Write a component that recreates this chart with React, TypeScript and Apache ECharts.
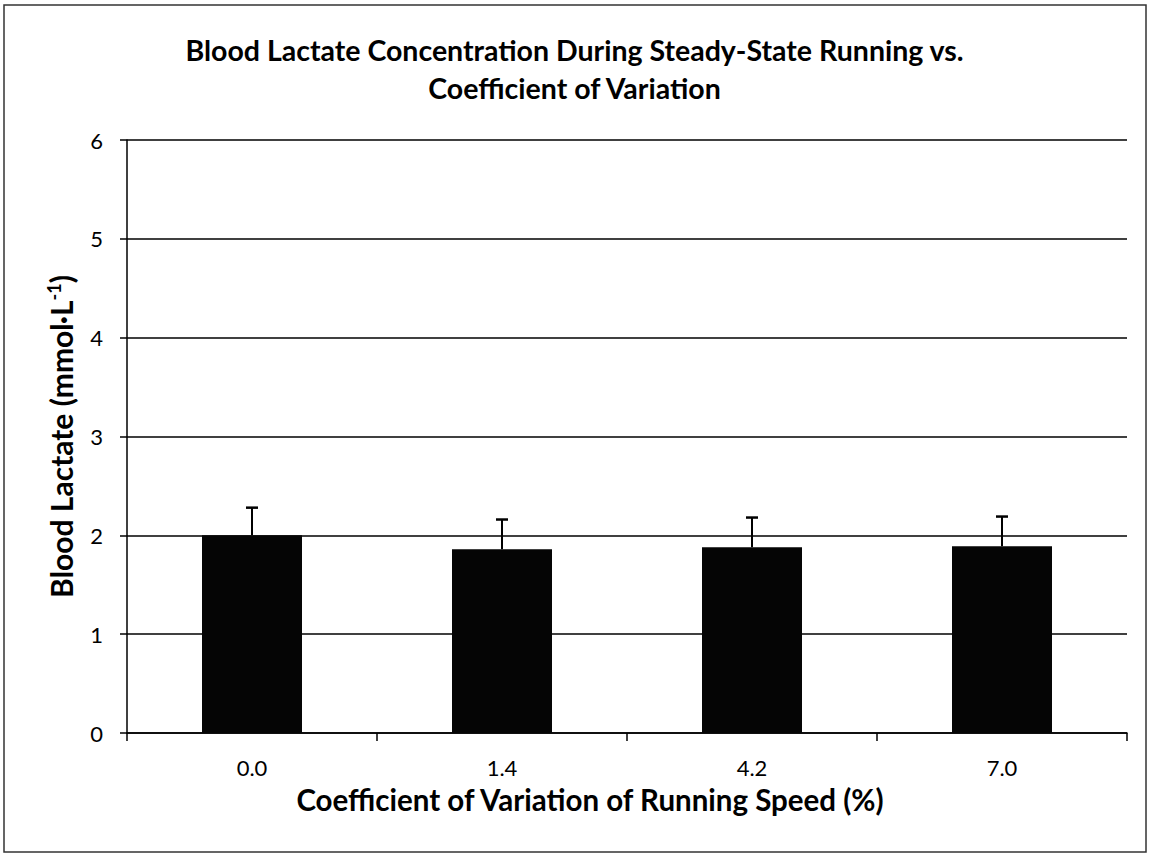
import React, { useEffect, useRef } from "react";
import * as echarts from "echarts";

const categories = ["0.0", "1.4", "4.2", "7.0"];
const lactateMeans = [2.0, 1.86, 1.88, 1.89];
const lactateSD = [0.28, 0.3, 0.3, 0.3];
const yTicks = [0, 1, 2, 3, 4, 5, 6];

export default function App() {
  const ref = useRef<HTMLDivElement>(null);
  useEffect(() => {
    document.body.style.margin = "0";
    const chart = echarts.init(ref.current!, null, { renderer: "svg" });
    const font = "Lato, 'Open Sans', sans-serif";
    const errData = lactateMeans.map((m, i) => [i, m, m + lactateSD[i]]);
    chart.setOption({
      animation: false,
      backgroundColor: "#fff",
      textStyle: { fontFamily: font },
      title: {
        text: "Blood Lactate Concentration During Steady-State Running vs.\nCoefficient of Variation",
        left: "center",
        top: 26,
        padding: [5, 10, 5, 0],
        textStyle: { fontFamily: font, fontWeight: "bold", fontSize: 28.5, color: "#000", lineHeight: 38 },
      },
      graphic: [
        {
          type: "rect",
          shape: { x: 4, y: 5, width: 1142, height: 847 },
          style: { fill: "none", stroke: "#333", lineWidth: 1.5 },
          silent: true,
        },
      ],
      grid: { left: 127, right: 22, top: 140, bottom: 130 },
      xAxis: {
        type: "category",
        data: categories,
        name: "Coefficient of Variation of Running Speed (%)",
        nameLocation: "middle",
        nameGap: 51,
        nameTextStyle: { fontFamily: font, fontWeight: "bold", fontSize: 29.5, color: "#000", padding: [0, 74, 0, 0] },
        axisLine: { lineStyle: { color: "#000", width: 1.5 } },
        axisTick: { show: true, length: 8, lineStyle: { color: "#000", width: 1.5 } },
        axisLabel: { fontFamily: font, fontSize: 22, color: "#000", margin: 23 },
      },
      yAxis: {
        type: "value",
        min: yTicks[0],
        max: yTicks[yTicks.length - 1],
        interval: 1,
        name: "Blood Lactate (mmol·L{sup|-1})",
        nameLocation: "middle",
        nameGap: 51,
        nameTextStyle: {
          fontFamily: font,
          fontWeight: "bold",
          fontSize: 30,
          color: "#000",
          rich: {
            sup: { fontFamily: font, fontWeight: "bold", fontSize: 18, color: "#000", verticalAlign: "top", padding: [0, 0, 13, 0] },
          },
        },
        axisLine: { show: true, lineStyle: { color: "#000", width: 1.5 } },
        axisTick: { show: true, length: 7, lineStyle: { color: "#000", width: 1.5 } },
        axisLabel: { fontFamily: font, fontSize: 22, color: "#000", margin: 24 },
        splitLine: { show: true, lineStyle: { color: "#000", width: 1.5 } },
      },
      series: [
        {
          type: "bar",
          data: lactateMeans,
          barWidth: "40%",
          itemStyle: { color: "#050505" },
        },
        {
          type: "custom",
          data: errData,
          z: 10,
          renderItem: (params: any, api: any) => {
            const x = api.value(0);
            const base = api.coord([x, api.value(1)]);
            const top = api.coord([x, api.value(2)]);
            const half = 6;
            return {
              type: "group",
              children: [
                {
                  type: "line",
                  shape: { x1: base[0], y1: base[1], x2: top[0], y2: top[1] },
                  style: { stroke: "#000", lineWidth: 2 },
                },
                {
                  type: "line",
                  shape: { x1: top[0] - half, y1: top[1], x2: top[0] + half, y2: top[1] },
                  style: { stroke: "#000", lineWidth: 2.5 },
                },
              ],
            };
          },
        },
      ],
    });
    return () => chart.dispose();
  }, []);
  return <div ref={ref} style={{ width: 1149, height: 863 }} />;
}
